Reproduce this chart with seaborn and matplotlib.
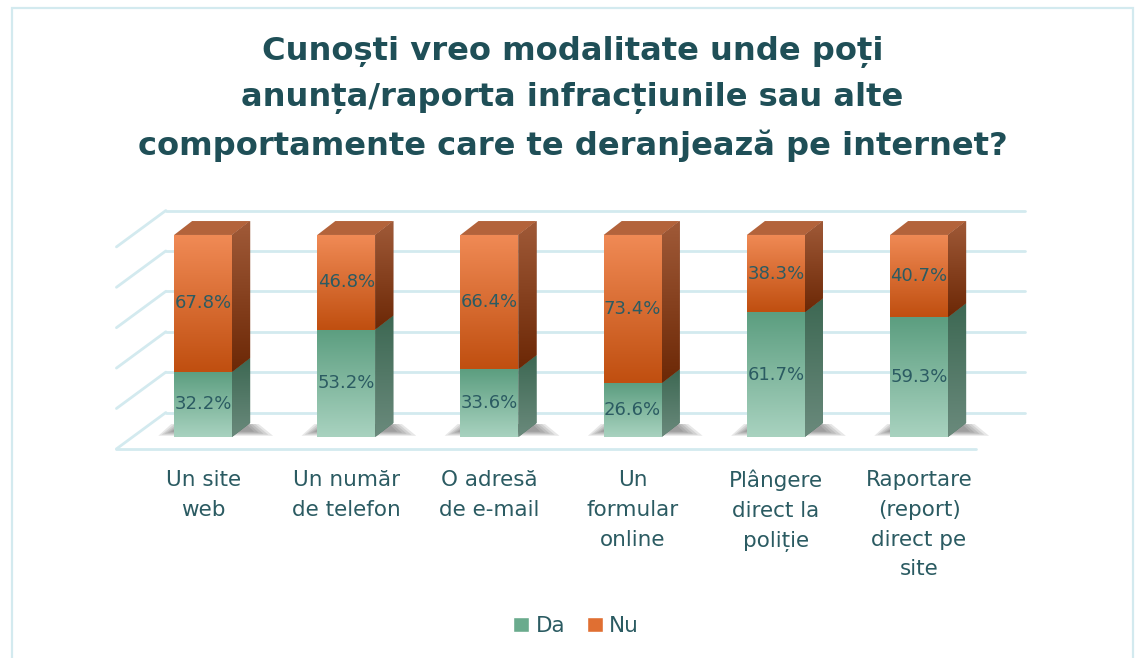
import numpy as np
import pandas as pd
import matplotlib
matplotlib.use("Agg")
import matplotlib.pyplot as plt
import seaborn as sns
from matplotlib.patches import Polygon, Rectangle, Patch
from matplotlib.colors import to_rgb

# Survey answers (percent)
categories = ['Un site\nweb', 'Un număr\nde telefon', 'O adresă\nde e-mail',
              'Un\nformular\nonline', 'Plângere\ndirect la\npoliție',
              'Raportare\n(report)\ndirect pe\nsite']
da = [32.2, 53.2, 33.6, 26.6, 61.7, 59.3]
nu = [67.8, 46.8, 66.4, 73.4, 38.3, 40.7]
grid_vals = [0, 20, 40, 60, 80, 100]

df = pd.DataFrame({'cat': categories, 'Da': da, 'Nu': nu})
df['total'] = df['Da'] + df['Nu']

sns.set_theme(style='white')
plt.rcParams['font.family'] = ['DejaVu Sans']

TXT = '#2b5b62'
GRID = '#d3eaef'
W = 0.405          # bar width
DX, DY = 0.126, 6.9  # bar depth offset
FX, FY = -0.105, -5.9  # floor front offset
BX, BY = 0.24, 12.1    # back wall offset

fig = plt.figure(figsize=(11.35, 6.58), dpi=100)
ax = fig.add_axes([0.0906, 0.3052, 0.8453, 0.3991])
XL, YL = (-0.7, 6.0), (-10, 120)


def grad(ax, patch, c_top, c_bot, y_top, y_bot, x0, x1, z):
    # vertical colour gradient, clipped to the patch
    t = np.linspace(0, 1, 64)[:, None]
    a, b = np.array(to_rgb(c_top)), np.array(to_rgb(c_bot))
    img = (a * (1 - t) + b * t)[:, None, :]
    im = ax.imshow(img, extent=[x0, x1, y_bot, y_top], aspect='auto',
                   origin='upper', zorder=z, interpolation='bicubic')
    im.set_clip_path(patch)


# walls / floor grid
n = len(categories)
for v in grid_vals:
    ax.plot([FX - 0.5, BX - 0.5], [v + FY, v + BY], color=GRID, lw=2, zorder=1)
    ax.plot([BX - 0.5, n - 1 + 0.5 + BX], [v + BY, v + BY], color=GRID, lw=2, zorder=1)
ax.plot([FX - 0.5, n - 1 + 0.5 + FX], [FY, FY], color=GRID, lw=2, zorder=1)

# front faces via seaborn
sns.barplot(data=df, x='cat', y='total', color='#e07a40', width=W, ax=ax,
            zorder=3, linewidth=0)
sns.barplot(data=df, x='cat', y='Da', color='#7ab89b', width=W, ax=ax,
            zorder=4, linewidth=0)

bars = list(ax.patches)
for i in range(n):
    xl = i - W / 2
    xr = i + W / 2
    d, tot = da[i], da[i] + nu[i]
    # soft shadow on the floor
    for k in range(5):
        s = k * 0.022
        sh = Polygon([(xl - 0.11 + s, 0.6 + k * 0.5), (xr + DX + 0.16 - s * 1.5, 0.6 + k * 0.5),
                      (xr + DX + 0.06 - s, DY - 0.5), (xl - 0.02 + s, DY - 0.5)],
                     closed=True, facecolor='#3a3a3a', alpha=0.12, lw=0, zorder=2)
        ax.add_patch(sh)
    # front gradients
    grad(ax, bars[i], '#f08a55', '#c04f10', tot, d, xl, xr, 3.5)
    grad(ax, bars[n + i], '#5c9e80', '#a8d2bf', d, 0, xl, xr, 4.5)
    # side faces
    sg = Polygon([(xr, 0), (xr + DX, DY), (xr + DX, d + DY), (xr, d)],
                 closed=True, facecolor='#466f5c', lw=0, zorder=3)
    ax.add_patch(sg)
    grad(ax, sg, '#3d6853', '#6a8a7c', d + DY, 0, xr, xr + DX, 3.2)
    so = Polygon([(xr, d), (xr + DX, d + DY), (xr + DX, tot + DY), (xr, tot)],
                 closed=True, facecolor='#80391a', lw=0, zorder=3)
    ax.add_patch(so)
    grad(ax, so, '#a05a38', '#6c2806', tot + DY, d, xr, xr + DX, 3.2)
    # top face
    tp = Polygon([(xl, tot), (xr, tot), (xr + DX, tot + DY), (xl + DX, tot + DY)],
                 closed=True, facecolor='#b3633b', lw=0, zorder=3)
    ax.add_patch(tp)
    # value labels
    ax.text(i, d / 2, f'{d:.1f}%', ha='center', va='center', fontsize=13,
            color=TXT, zorder=10)
    ax.text(i, d + nu[i] / 2, f'{nu[i]:.1f}%', ha='center', va='center',
            fontsize=13, color=TXT, zorder=10)

ax.set_xlim(*XL)
ax.set_ylim(*YL)
ax.set_xlabel('')
ax.set_ylabel('')
ax.set_yticks([])
ax.set_xticks(range(n))
ax.set_xticklabels(categories, fontsize=15.5, color=TXT, linespacing=1.62, va='top')
ax.tick_params(axis='x', length=0, pad=9)
for s in ax.spines.values():
    s.set_visible(False)
ax.patch.set_alpha(0)

fig.text(0.5045, 1 - 99 / 658,
         'Cunoști vreo modalitate unde poți\nanunța/raporta infracțiunile sau alte\n'
         'comportamente care te deranjează pe internet?',
         ha='center', va='center', fontsize=23.1, fontweight='bold',
         color='#1f4f57', linespacing=1.6)

handles = [Patch(facecolor='#6aab8d', label='Da'), Patch(facecolor='#e06f32', label='Nu')]
fig.legend(handles=handles, loc='center', bbox_to_anchor=(576 / 1135, 1 - 626 / 658),
           ncol=2, frameon=False, fontsize=15.5, labelcolor=TXT,
           handlelength=0.75, handleheight=0.75, handletextpad=0.3, columnspacing=1.0)

fig.patches.append(Rectangle((11.5 / 1135, -0.02), (1133 - 11.5) / 1135,
                             1.02 - 8.5 / 658, transform=fig.transFigure,
                             fill=False, edgecolor=GRID, lw=1.6, zorder=0))

fig.savefig('out.png', dpi=100)
